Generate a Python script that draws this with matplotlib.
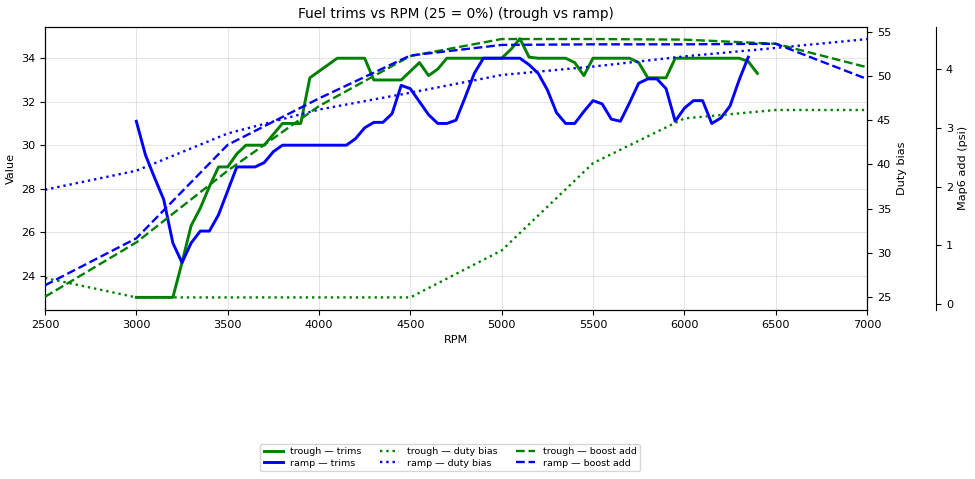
import matplotlib
matplotlib.use("Agg")
import matplotlib.pyplot as plt
import numpy as np

# ---------------- data ----------------
rpm_trough_trims = list(range(3000, 6401, 50))
trough_trims = [
    23.0, 23.0, 23.0, 23.0, 23.0, 24.6, 26.3, 27.1, 28.1, 29.0,
    29.0, 29.6, 30.0, 30.0, 30.0, 30.5, 31.0, 31.0, 31.0, 33.1,
    33.4, 33.7, 34.0, 34.0, 34.0, 34.0, 33.0, 33.0, 33.0, 33.0,
    33.4, 33.8, 33.2, 33.5, 34.0, 34.0, 34.0, 34.0, 34.0, 34.0,
    34.0, 34.4, 34.9, 34.05, 34.0, 34.0, 34.0, 34.0, 33.8, 33.2,
    34.0, 34.0, 34.0, 34.0, 34.0, 33.8, 33.1, 33.1, 33.1, 34.0,
    34.0, 34.0, 34.0, 34.0, 34.0, 34.0, 34.0, 33.85, 33.3,
]

rpm_ramp_trims = list(range(3000, 6351, 50))
ramp_trims = [
    31.1, 29.55, 28.5, 27.5, 25.5, 24.6, 25.5, 26.05, 26.05, 26.8,
    27.9, 29.0, 29.0, 29.0, 29.2, 29.7, 30.0, 30.0, 30.0, 30.0,
    30.0, 30.0, 30.0, 30.0, 30.3, 30.8, 31.05, 31.05, 31.45, 32.75,
    32.6, 32.0, 31.4, 31.0, 31.0, 31.15, 32.2, 33.3, 34.0, 34.0,
    34.0, 34.0, 34.0, 33.7, 33.3, 32.55, 31.5, 31.0, 31.0, 31.55,
    32.05, 31.9, 31.2, 31.1, 31.95, 32.85, 33.05, 33.05, 32.6, 31.1,
    31.7, 32.05, 32.05, 31.0, 31.25, 31.8, 33.0, 34.05,
]

rpm_grid = [2500, 3000, 3500, 4000, 4500, 5000, 5500, 6000, 6500, 7000]
trough_duty = [27.2, 25.0, 25.0, 25.0, 25.0, 30.3, 40.15, 45.2, 46.15, 46.15]
ramp_duty = [37.15, 39.3, 43.5, 46.2, 48.1, 50.1, 51.05, 52.2, 53.15, 54.15]
trough_boost = [0.125, 1.05, 2.27, 3.37, 4.22, 4.51, 4.51, 4.5, 4.43, 4.03]
ramp_boost = [0.32, 1.12, 2.71, 3.5, 4.23, 4.41, 4.42, 4.42, 4.43, 3.83]

xticks = [2500, 3000, 3500, 4000, 4500, 5000, 5500, 6000, 6500, 7000]
duty_ticks = [25, 30, 35, 40, 45, 50, 55]
boost_ticks = [0, 1, 2, 3, 4]

# ---------------- plot ----------------
FS = 8.1
fig = plt.figure(figsize=(9.75, 4.79), dpi=100)
ax = fig.add_axes([45 / 975, 1 - 310 / 479, 822 / 975, 283.3 / 479])
ax2 = ax.twinx()
ax3 = ax.twinx()
ax3.spines["right"].set_position(("axes", 1.084))
ax3.spines["left"].set_visible(False)
ax3.spines["top"].set_visible(False)
ax3.spines["bottom"].set_visible(False)

l1, = ax.plot(rpm_trough_trims, trough_trims, color="green", lw=2.1, label="trough — trims")
l2, = ax.plot(rpm_ramp_trims, ramp_trims, color="blue", lw=2.1, label="ramp — trims")
l3, = ax2.plot(rpm_grid, trough_duty, color="green", lw=1.7, ls=":", label="trough — duty bias")
l4, = ax2.plot(rpm_grid, ramp_duty, color="blue", lw=1.7, ls=":", label="ramp — duty bias")
l5, = ax3.plot(rpm_grid, trough_boost, color="green", lw=1.7, ls="--", label="trough — boost add")
l6, = ax3.plot(rpm_grid, ramp_boost, color="blue", lw=1.7, ls="--", label="ramp — boost add")

ax.set_xlim(2500, 7000)
ax.set_xticks(xticks)
ax.set_ylim(22.42, 35.45)
ax2.set_ylim(23.58, 55.55)
ax2.set_yticks(duty_ticks)
ax3.set_ylim(-0.1, 4.72)
ax3.set_yticks(boost_ticks)

ax.grid(True, color="#cccccc", alpha=0.5, lw=0.8)
ax.set_xlabel("RPM", fontsize=FS)
ax.set_ylabel("Value", fontsize=FS)
ax2.set_ylabel("Duty bias", fontsize=FS)
ax3.set_ylabel("Map6 add (psi)", fontsize=FS)
ax.set_title("Fuel trims vs RPM (25 = 0%) (trough vs ramp)", fontsize=9.8)
for a in (ax, ax2, ax3):
    a.tick_params(labelsize=FS)

handles = [l1, l2, l3, l4, l5, l6]
ax.legend(handles=handles, labels=[h.get_label() for h in handles],
          loc="upper center", bbox_to_anchor=(0.493, -0.455), ncol=3,
          fontsize=6.8, frameon=True, borderpad=0.35, labelspacing=0.3)

fig.savefig("out.png", dpi=100)
